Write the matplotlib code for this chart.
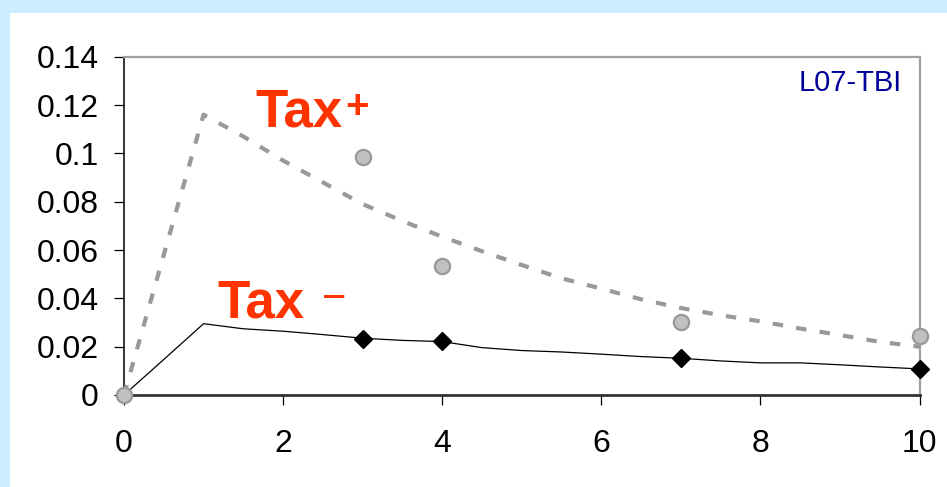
import matplotlib
matplotlib.use("Agg")
import matplotlib.pyplot as plt
from matplotlib.patches import Rectangle

plt.rcParams['font.family'] = ['Liberation Sans', 'DejaVu Sans']

# Model curves sampled every half unit of time
t_curve = [0, 0.5, 1, 1.5, 2, 2.5, 3, 3.5, 4, 4.5, 5, 5.5, 6, 6.5, 7, 7.5, 8, 8.5, 9, 9.5, 10]
tax_plus_curve = [0, 0.058, 0.116, 0.107, 0.097, 0.088, 0.079, 0.072, 0.0655, 0.0595, 0.0538,
                  0.0483, 0.0440, 0.0396, 0.0360, 0.0330, 0.0305, 0.0275, 0.0248, 0.0220, 0.0200]
tax_minus_curve = [0, 0.0147, 0.0295, 0.0274, 0.0264, 0.0250, 0.0235, 0.0226, 0.0221, 0.0196, 0.0184,
                   0.0178, 0.0169, 0.0159, 0.0152, 0.0141, 0.0133, 0.0133, 0.0125, 0.0116, 0.0108]

# Measured points
t_plus_obs = [0, 3, 4, 7, 10]
tax_plus_obs = [0, 0.0985, 0.0535, 0.0303, 0.0245]
t_minus_obs = [3, 4, 7, 10]
tax_minus_obs = [0.0233, 0.0222, 0.0153, 0.0108]

x_ticks = [0, 2, 4, 6, 8, 10]
y_ticks = [0, 0.02, 0.04, 0.06, 0.08, 0.1, 0.12, 0.14]
y_tick_labels = ['0', '0.02', '0.04', '0.06', '0.08', '0.1', '0.12', '0.14']

fig = plt.figure(figsize=(9.47, 4.87), dpi=100)
fig.patch.set_facecolor('#ccecff')
fig.add_artist(Rectangle((10 / 947, 0), 1, (487 - 13) / 487, transform=fig.transFigure,
                         facecolor='white', edgecolor='none', zorder=0))

ax = fig.add_axes([124 / 947, (487 - 395) / 487, (919.5 - 124) / 947, (395 - 56.7) / 487])
ax.set_facecolor('white')

ax.plot(t_curve, tax_plus_curve, color='#999999', lw=3.0, dashes=(2.5, 3.2),
        dash_capstyle='butt', zorder=3, clip_on=False)
ax.plot(t_curve, tax_minus_curve, color='black', lw=0.9, zorder=3, clip_on=False)
ax.plot(t_minus_obs, tax_minus_obs, linestyle='none', marker='D', markersize=9.5,
        markerfacecolor='black', markeredgecolor='black', zorder=4, clip_on=False)
ax.plot(t_plus_obs, tax_plus_obs, linestyle='none', marker='o', markersize=11,
        markerfacecolor='#c0c0c0', markeredgecolor='#999999', markeredgewidth=1.6,
        zorder=5, clip_on=False)

ax.set_xlim(0, 10)
ax.set_ylim(0, 0.14)
ax.set_xticks(x_ticks)
ax.set_xticklabels([str(v) for v in x_ticks])
ax.set_yticks(y_ticks)
ax.set_yticklabels(y_tick_labels)
ax.tick_params(axis='both', direction='out', length=7.2, width=0.9, color='black',
               labelsize=23, labelcolor='black')
ax.tick_params(axis='y', pad=11)
ax.tick_params(axis='x', pad=17)

ax.spines['left'].set_color('black')
ax.spines['left'].set_linewidth(1.1)
ax.spines['bottom'].set_color('#333333')
ax.spines['bottom'].set_linewidth(2.0)
ax.spines['top'].set_color('#a0a0a0')
ax.spines['right'].set_color('#a0a0a0')
ax.spines['top'].set_linewidth(1.6)
ax.spines['right'].set_linewidth(1.6)

red = '#ff3300'
t1 = ax.text(1.65, 0.1113, 'Tax', color=red, fontsize=38, fontweight='bold',
             ha='left', va='baseline', zorder=6)
ax.annotate('+', xy=(1.0, 1.0), xycoords=t1, xytext=(2, -1), textcoords='offset points',
            color=red, fontsize=29, fontweight='bold', ha='left', va='top', zorder=6)
t2 = ax.text(1.17, 0.032, 'Tax', color=red, fontsize=38, fontweight='bold',
             ha='left', va='baseline', zorder=6)
ax.annotate('\u2212', xy=(1.0, 1.0), xycoords=t2, xytext=(13, 0), textcoords='offset points',
            color=red, fontsize=30, ha='left', va='top', zorder=6)

ax.text(9.78, 0.129, 'L07-TBI', color='#000099', fontsize=21, ha='right', va='center')

fig.savefig('out.png', dpi=100, facecolor=fig.get_facecolor())
